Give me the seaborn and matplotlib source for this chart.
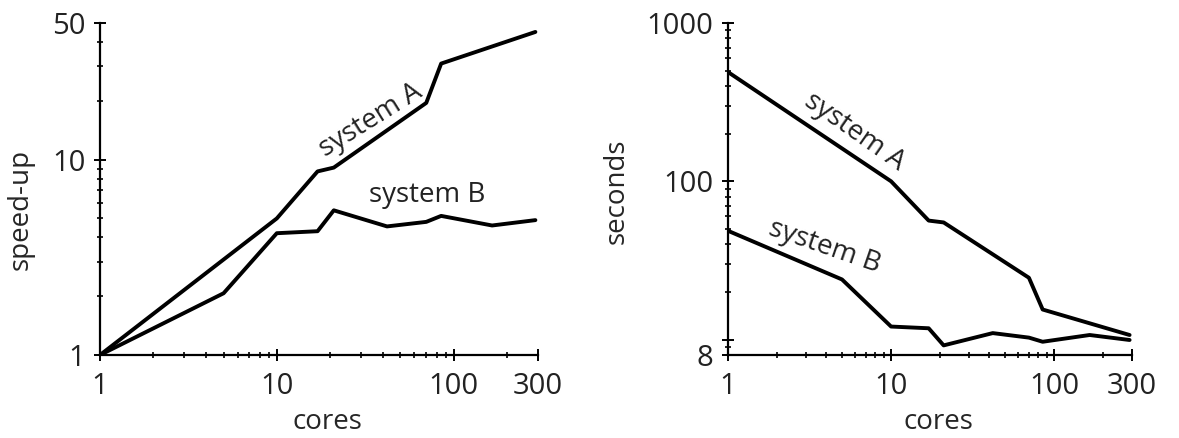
import matplotlib
matplotlib.use("Agg")
import matplotlib.pyplot as plt
from matplotlib.ticker import FixedLocator, NullFormatter, FixedFormatter
import seaborn as sns
import pandas as pd

# ---- data ----
speedup_a_cores = [1, 10, 17, 21, 70, 85, 290]
speedup_a = [1, 5.0, 8.7, 9.1, 19.5, 31, 45]
speedup_b_cores = [1, 5, 10, 17, 21, 42, 70, 85, 165, 290]
speedup_b = [1, 2.07, 4.2, 4.3, 5.5, 4.55, 4.8, 5.15, 4.6, 4.9]

seconds_a_cores = [1, 10, 17, 21, 70, 85, 290]
seconds_a = [490, 100, 56.5, 55, 24.6, 15.5, 10.7]
seconds_b_cores = [1, 5, 10, 17, 21, 42, 70, 85, 165, 290]
seconds_b = [48.7, 24, 12.1, 11.8, 9.2, 11, 10.3, 9.7, 10.7, 9.95]

x_ticks = [1, 10, 100, 300]
x_tick_labels = ["1", "10", "100", "300"]
left_y_ticks = [1, 10, 50]
left_y_tick_labels = ["1", "10", "50"]
right_y_ticks = [8, 10, 100, 1000]
right_y_tick_labels = ["8", "", "100", "1000"]

sns.set_style("ticks")
plt.rcParams["font.family"] = ["Open Sans", "DejaVu Sans"]
plt.rcParams["text.color"] = "#222222"

fig = plt.figure(figsize=(11.79, 4.38), dpi=100)
W, H = 1179, 438
ax1 = fig.add_axes([100 / W, (H - 355) / H, 438 / W, 332 / H])
ax2 = fig.add_axes([728 / W, (H - 355) / H, 404 / W, 332 / H])

def frame(cores, vals, series):
    return pd.DataFrame({"cores": cores, "value": vals, "series": series})

left_df = pd.concat([frame(speedup_a_cores, speedup_a, "system A"),
                     frame(speedup_b_cores, speedup_b, "system B")])
right_df = pd.concat([frame(seconds_a_cores, seconds_a, "system A"),
                      frame(seconds_b_cores, seconds_b, "system B")])

for ax, df in [(ax1, left_df), (ax2, right_df)]:
    sns.lineplot(data=df, x="cores", y="value", units="series", estimator=None,
                 sort=False, color="black", lw=2.8, ax=ax, legend=False)

FS = 20
TS = 21
minor_x = [2, 3, 4, 5, 6, 7, 8, 9, 20, 30, 40, 50, 60, 70, 80, 90, 200]
for ax in (ax1, ax2):
    ax.set_xscale("log")
    ax.set_yscale("log")
    ax.set_xlim(1, 300)
    ax.xaxis.set_major_locator(FixedLocator(x_ticks))
    ax.xaxis.set_major_formatter(FixedFormatter(x_tick_labels))
    ax.xaxis.set_minor_locator(FixedLocator(minor_x))
    ax.xaxis.set_minor_formatter(NullFormatter())
    for s in ("top", "right"):
        ax.spines[s].set_visible(False)
    for s in ("left", "bottom"):
        ax.spines[s].set_linewidth(1.6)
        ax.spines[s].set_color("black")
    ax.tick_params(which="major", direction="inout", length=9, width=1.4,
                   labelsize=TS, colors="black", labelcolor="#222222")
    ax.tick_params(axis="x", which="major", pad=8)
    ax.tick_params(axis="y", which="major", pad=6)
    ax.tick_params(which="minor", direction="inout", length=4.5, width=1.2,
                   colors="black")
    ax.set_xlabel("cores", fontsize=FS)
    ax.xaxis.set_label_coords(0.52, -0.16)

ax1.set_ylim(1, 50)
ax1.yaxis.set_major_locator(FixedLocator(left_y_ticks))
ax1.yaxis.set_major_formatter(FixedFormatter(left_y_tick_labels))
ax1.yaxis.set_minor_locator(FixedLocator([2, 3, 4, 5, 6, 7, 8, 9, 20, 30, 40]))
ax1.yaxis.set_minor_formatter(NullFormatter())
ax1.set_ylabel("speed-up", fontsize=FS)
ax1.yaxis.set_label_coords(-0.15, 0.437)

ax2.set_ylim(8, 1000)
ax2.yaxis.set_major_locator(FixedLocator(right_y_ticks))
ax2.yaxis.set_major_formatter(FixedFormatter(right_y_tick_labels))
ax2.yaxis.set_minor_locator(FixedLocator([9, 20, 30, 40, 50, 60, 70, 80, 90,
                                          200, 300, 400, 500, 600, 700, 800, 900]))
ax2.yaxis.set_minor_formatter(NullFormatter())
ax2.set_ylabel("seconds", fontsize=FS)
ax2.yaxis.set_label_coords(-0.24, 0.494)

txt = dict(fontsize=FS, ha="center", va="center", rotation_mode="anchor")
ax1.text(0.619, 0.708, "system A", transform=ax1.transAxes, rotation=32, **txt)
ax1.text(0.747, 0.482, "system B", transform=ax1.transAxes, rotation=0, **txt)
ax2.text(0.312, 0.672, "system A", transform=ax2.transAxes, rotation=-35, **txt)
ax2.text(0.238, 0.325, "system B", transform=ax2.transAxes, rotation=-19, **txt)

fig.savefig("out.png", dpi=100, facecolor="white")
